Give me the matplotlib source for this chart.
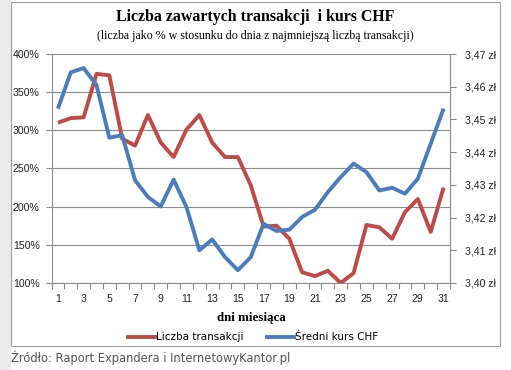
import matplotlib
matplotlib.use("Agg")
import matplotlib.pyplot as plt
from matplotlib.patches import Rectangle
from matplotlib.lines import Line2D
from matplotlib.ticker import FuncFormatter, MultipleLocator, FixedLocator

# ---- data ----
days = list(range(1, 32))
transactions_pct = [310, 316, 317, 374, 372, 289, 280, 320, 284, 265,
                    301, 320, 284, 265, 265, 228, 174, 175, 158, 114,
                    109, 116, 100, 113, 176, 173, 158, 193, 210, 167, 225]
chf_rate = [3.4533, 3.4644, 3.4657, 3.4605, 3.4444, 3.4452, 3.4314, 3.4263, 3.4234, 3.4316,
            3.4232, 3.4100, 3.4133, 3.4079, 3.4039, 3.4079, 3.4181, 3.4159, 3.4163, 3.4202,
            3.4224, 3.4278, 3.4324, 3.4365, 3.4339, 3.4283, 3.4291, 3.4273, 3.4319, 3.4426, 3.4533]
x_tick_labels = [str(d) for d in days if d % 2 == 1]
title = "Liczba zawartych transakcji  i kurs CHF"
subtitle = "(liczba jako % w stosunku do dnia z najmniejszą liczbą transakcji)"
x_title = "dni miesiąca"
series_names = ["Liczba transakcji", "Średni kurs CHF"]
source = "Źródło: Raport Expandera i InternetowyKantor.pl"

RED = "#BE4B48"
BLUE = "#4A7EBB"
GRID = "#8C8C8C"
TICKFONT = ["Liberation Sans", "DejaVu Sans"]
W, H = 511, 370

fig = plt.figure(figsize=(W / 100, H / 100), dpi=100)
fig.patch.set_facecolor("white")

def fx(px):
    return px / W

def fy(py):
    return 1 - py / H

# left grey strip and chart box
fig.patches.append(Rectangle((0, 0), fx(11), 1, transform=fig.transFigure,
                             facecolor="#EBEBEB", edgecolor="none", zorder=-10))
fig.patches.append(Rectangle((fx(11), fy(346)), fx(500 - 11), (346 - 2) / H,
                             transform=fig.transFigure, facecolor="white",
                             edgecolor="#A0A0A0", linewidth=0.8, zorder=-10))

ax = fig.add_axes([fx(51.5), fy(283), fx(450 - 51.5), (283 - 54) / H])
ax.set_facecolor("none")
ax.plot(days, transactions_pct, color=RED, lw=2.8, solid_capstyle="butt",
        solid_joinstyle="round", zorder=3)
ax.set_xlim(0.5, 31.5)
ax.set_ylim(100, 400)
ax.yaxis.set_major_locator(MultipleLocator(50))
ax.yaxis.set_major_formatter(FuncFormatter(lambda v, p: f"{int(round(v))}%"))
ax.grid(axis="y", color=GRID, lw=0.8)
ax.set_axisbelow(True)
ax.xaxis.set_major_locator(FixedLocator([d for d in days if d % 2 == 1]))
ax.set_xticklabels(x_tick_labels)
ax.xaxis.set_minor_locator(FixedLocator([d + 0.5 for d in range(0, 32)]))
ax.tick_params(axis="x", which="major", length=0, pad=8, labelsize=7.6, labelcolor="#222222")
ax.tick_params(axis="x", which="minor", length=4, width=0.8, color=GRID, direction="out")
ax.tick_params(axis="y", length=4, width=0.8, color=GRID, labelsize=7.6, labelcolor="#222222", pad=4.5)
for s in ["left", "bottom"]:
    ax.spines[s].set_color(GRID)
    ax.spines[s].set_linewidth(0.8)
for s in ["top", "right"]:
    ax.spines[s].set_visible(False)
for lab in ax.get_xticklabels() + ax.get_yticklabels():
    lab.set_family(TICKFONT)

ax2 = ax.twinx()
ax2.plot(days, chf_rate, color=BLUE, lw=2.8, solid_capstyle="butt",
         solid_joinstyle="round", zorder=3)
ax2.set_ylim(3.40, 3.47)
ax2.yaxis.set_major_locator(MultipleLocator(0.01))
ax2.yaxis.set_major_formatter(FuncFormatter(lambda v, p: f"{v:.2f}".replace(".", ",") + " zł"))
ax2.tick_params(axis="y", length=4, width=0.8, color=GRID, labelsize=7.6, labelcolor="#222222", pad=6.5)
for s in ["left", "bottom", "top"]:
    ax2.spines[s].set_visible(False)
ax2.spines["right"].set_color(GRID)
ax2.spines["right"].set_linewidth(0.8)
for lab in ax2.get_yticklabels():
    lab.set_family(TICKFONT)

serif = ["Liberation Serif", "DejaVu Serif"]
fig.text(fx(255), fy(17), title, ha="center", va="center", fontsize=11.4,
         fontweight="bold", family=serif, color="black")
fig.text(fx(255), fy(36), subtitle, ha="center", va="center", fontsize=8.6,
         family=serif, color="black")
fig.text(fx(251), fy(318), x_title, ha="center", va="center", fontsize=9.4,
         fontweight="bold", family=serif, color="black")

handles = [Line2D([], [], color=RED, lw=2.8), Line2D([], [], color=BLUE, lw=2.8)]
fig.legend(handles, series_names, loc="center", bbox_to_anchor=(fx(253), fy(337.5)),
           ncol=2, frameon=False, handlelength=2.6, handletextpad=0.15,
           columnspacing=2.2, borderpad=0, prop={"family": "DejaVu Sans", "size": 7.5})

fig.text(fx(11), fy(358), source, ha="left", va="center", fontsize=8.3,
         family="DejaVu Sans", color="#555555")

fig.savefig("out.png", dpi=100)
